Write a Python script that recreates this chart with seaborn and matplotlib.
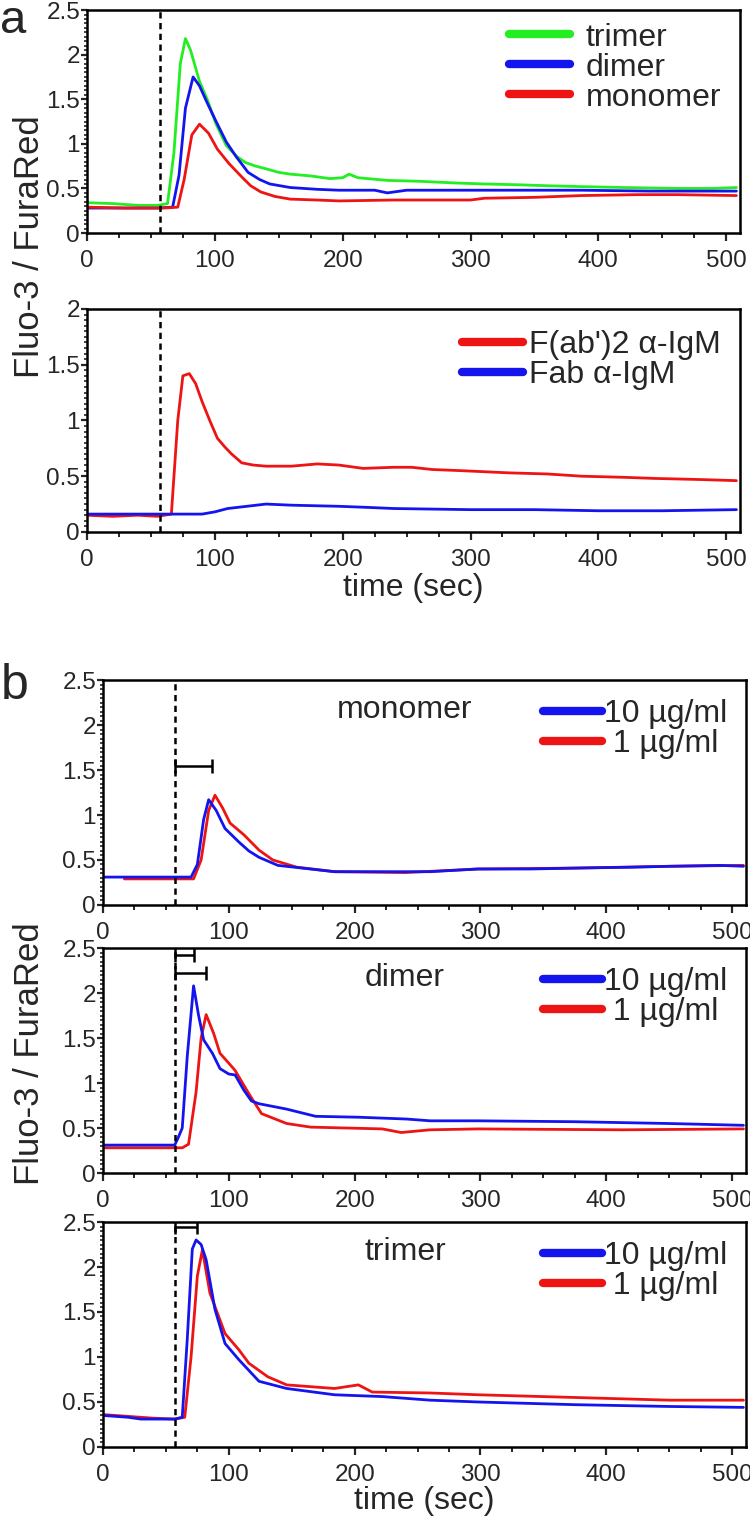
import matplotlib
matplotlib.use("Agg")
import matplotlib.pyplot as plt
from matplotlib.ticker import MultipleLocator
import pandas as pd
import seaborn as sns

# ---------------- data ----------------
# panel a, top: trimer / dimer / monomer at one dose
a_tri_t = [0, 20, 40, 55, 63, 68, 73, 77, 81, 88, 94, 101, 109, 117, 124, 132, 140, 150, 159, 175, 190, 200, 205, 212, 235, 260, 290, 311, 340, 360, 387, 420, 462, 490, 508]
a_tri_v = [0.34, 0.33, 0.31, 0.31, 0.33, 0.9, 1.9, 2.18, 2.05, 1.7, 1.5, 1.22, 0.98, 0.86, 0.79, 0.75, 0.72, 0.68, 0.66, 0.64, 0.61, 0.62, 0.66, 0.62, 0.59, 0.58, 0.56, 0.55, 0.54, 0.53, 0.52, 0.51, 0.50, 0.50, 0.51]
a_di_t = [0, 30, 55, 67, 72, 77, 83, 88, 94, 101, 109, 117, 126, 135, 143, 159, 180, 197, 225, 235, 250, 273, 320, 387, 440, 508]
a_di_v = [0.28, 0.28, 0.28, 0.29, 0.65, 1.4, 1.75, 1.65, 1.46, 1.25, 1.02, 0.85, 0.68, 0.6, 0.55, 0.51, 0.49, 0.48, 0.48, 0.45, 0.48, 0.48, 0.48, 0.48, 0.47, 0.47]
a_mono_t = [0, 30, 60, 71, 76, 82, 88, 95, 102, 111, 121, 128, 136, 147, 159, 180, 197, 240, 300, 311, 350, 387, 430, 462, 508]
a_mono_v = [0.29, 0.28, 0.28, 0.29, 0.6, 1.1, 1.22, 1.12, 0.94, 0.78, 0.63, 0.53, 0.46, 0.41, 0.38, 0.37, 0.36, 0.37, 0.37, 0.39, 0.40, 0.42, 0.43, 0.43, 0.42]

# panel a, bottom: F(ab')2 vs Fab anti-IgM
a_fab2_t = [0, 20, 40, 55, 66, 71, 75, 80, 85, 90, 96, 102, 108, 113, 121, 130, 140, 160, 180, 197, 216, 240, 254, 270, 292, 330, 360, 387, 420, 444, 480, 508]
a_fab2_v = [0.15, 0.14, 0.15, 0.14, 0.16, 1.0, 1.40, 1.42, 1.33, 1.17, 1.0, 0.84, 0.76, 0.70, 0.62, 0.60, 0.59, 0.59, 0.61, 0.60, 0.57, 0.58, 0.58, 0.56, 0.55, 0.53, 0.52, 0.50, 0.49, 0.48, 0.47, 0.46]
a_fab_t = [0, 60, 90, 100, 110, 125, 140, 160, 197, 220, 240, 300, 350, 400, 450, 508]
a_fab_v = [0.16, 0.16, 0.16, 0.18, 0.21, 0.23, 0.25, 0.24, 0.23, 0.22, 0.21, 0.20, 0.20, 0.19, 0.19, 0.20]

# panel b: 10 ug/ml vs 1 ug/ml for each ligand
mono_hi_t = [0, 40, 70, 75, 80, 84, 90, 97, 108, 116, 124, 139, 165, 184, 230, 260, 298, 340, 375, 420, 450, 490, 509]
mono_hi_v = [0.31, 0.31, 0.31, 0.45, 0.95, 1.17, 1.05, 0.85, 0.70, 0.60, 0.53, 0.44, 0.40, 0.37, 0.37, 0.37, 0.40, 0.40, 0.41, 0.42, 0.43, 0.44, 0.43]
mono_lo_t = [17, 40, 72, 78, 84, 89, 95, 101, 112, 124, 135, 154, 184, 240, 298, 375, 450, 509]
mono_lo_v = [0.29, 0.29, 0.29, 0.5, 1.05, 1.22, 1.08, 0.91, 0.78, 0.61, 0.50, 0.42, 0.37, 0.36, 0.40, 0.41, 0.43, 0.44]

di_hi_t = [0, 57, 60, 63, 67, 72, 76, 80, 87, 93, 100, 105, 112, 118, 124, 146, 169, 203, 241, 260, 298, 375, 450, 509]
di_hi_v = [0.31, 0.31, 0.40, 0.50, 1.3, 2.08, 1.75, 1.48, 1.33, 1.16, 1.10, 1.09, 0.92, 0.80, 0.77, 0.71, 0.63, 0.62, 0.60, 0.58, 0.58, 0.57, 0.55, 0.53]
di_lo_t = [0, 30, 63, 68, 74, 78, 82, 88, 93, 100, 105, 116, 126, 146, 165, 222, 237, 260, 298, 413, 509]
di_lo_v = [0.28, 0.28, 0.28, 0.32, 0.9, 1.5, 1.76, 1.55, 1.33, 1.22, 1.14, 0.88, 0.66, 0.55, 0.51, 0.49, 0.45, 0.48, 0.49, 0.48, 0.49]

tri_hi_t = [0, 20, 30, 57, 63, 67, 71, 74, 78, 82, 89, 97, 108, 124, 146, 184, 222, 260, 298, 375, 450, 509]
tri_hi_v = [0.35, 0.33, 0.31, 0.31, 0.33, 1.2, 2.2, 2.30, 2.25, 2.08, 1.53, 1.15, 0.97, 0.73, 0.65, 0.58, 0.56, 0.52, 0.50, 0.47, 0.45, 0.44]
tri_lo_t = [0, 20, 40, 57, 65, 70, 75, 79, 85, 97, 108, 116, 131, 146, 184, 203, 214, 260, 298, 375, 450, 509]
tri_lo_v = [0.36, 0.34, 0.32, 0.31, 0.33, 1.0, 1.9, 2.19, 1.71, 1.26, 1.08, 0.93, 0.78, 0.69, 0.65, 0.69, 0.61, 0.60, 0.58, 0.55, 0.52, 0.52]

# ligand addition time and time-to-peak bars (start, end, height) for panel b
stim_time = 57
mono_bars = [(57, 87, 1.55)]
di_bars = [(57, 72, 2.42), (57, 82, 2.22)]
tri_bars = [(57, 75, 2.45)]

GREEN = "#22ee22"
BLUE = "#1414ee"
RED = "#ee1414"

# ---------------- style ----------------
sns.set_style("ticks")
plt.rcParams["font.family"] = ["Liberation Sans", "DejaVu Sans"]
plt.rcParams["axes.linewidth"] = 1.8
plt.rcParams["xtick.major.width"] = 1.6
plt.rcParams["ytick.major.width"] = 1.6
plt.rcParams["xtick.minor.width"] = 1.4
plt.rcParams["ytick.minor.width"] = 1.2
plt.rcParams["xtick.major.size"] = 6
plt.rcParams["xtick.minor.size"] = 3.5
plt.rcParams["ytick.major.size"] = 4
plt.rcParams["ytick.minor.size"] = 2.5
plt.rcParams["xtick.major.pad"] = 6
plt.rcParams["ytick.major.pad"] = 1

TICK_FS = 17.5
LEG_FS = 23


def trace(ax, t, v, color, label=None):
    df = pd.DataFrame({"t": t, "v": v})
    sns.lineplot(data=df, x="t", y="v", ax=ax, color=color, lw=2.0,
                 label=label, legend=False, estimator=None, sort=False)


def style_axes(ax, ymax, ymajor):
    ax.set_xlim(0, 511)
    ax.set_ylim(0, ymax)
    ax.xaxis.set_major_locator(MultipleLocator(100))
    ax.xaxis.set_minor_locator(MultipleLocator(25))
    ax.yaxis.set_major_locator(MultipleLocator(ymajor))
    ax.yaxis.set_minor_locator(MultipleLocator(0.05))
    ax.tick_params(axis="both", which="both", direction="out", labelsize=TICK_FS)
    ax.set_yticklabels([f"{y:g}" for y in ax.get_yticks()])
    for s in ax.spines.values():
        s.set_visible(True)
        s.set_color("black")
    ax.axvline(stim_time, color="black", lw=1.8, ls=(0, (2.5, 1.8)), zorder=5)
    ax.set_xlabel("")
    ax.set_ylabel("")


def legend(ax, handles, labels, y_anchor, handlelength, textpad):
    leg = ax.legend(handles, labels, loc="upper right", bbox_to_anchor=(1.0, y_anchor),
                    frameon=False, fontsize=LEG_FS, handlelength=handlelength,
                    handletextpad=textpad, labelspacing=0.0, borderaxespad=0.2)
    for line in leg.get_lines():
        line.set_linewidth(6)


def bars(ax, spec):
    for start, end, h in spec:
        ax.errorbar((start + end) / 2, h, xerr=(end - start) / 2, fmt="none",
                    ecolor="black", elinewidth=1.8, capsize=5, capthick=1.8, zorder=6)


fig = plt.figure(figsize=(7.5, 15.22), dpi=100)

# ---- panel a ----
ax1 = fig.add_axes([0.116, 0.8469, 0.871, 0.1465])
trace(ax1, a_tri_t, a_tri_v, GREEN, "trimer")
trace(ax1, a_di_t, a_di_v, BLUE, "dimer")
trace(ax1, a_mono_t, a_mono_v, RED, "monomer")
style_axes(ax1, 2.5, 0.5)
h, l = ax1.get_legend_handles_labels()
legend(ax1, h, l, 1.03, 1.9, 0.5)

ax2 = fig.add_axes([0.116, 0.6505, 0.871, 0.1465])
trace(ax2, a_fab2_t, a_fab2_v, RED, "F(ab')2 \u03b1-IgM")
trace(ax2, a_fab_t, a_fab_v, BLUE, "Fab \u03b1-IgM")
style_axes(ax2, 2.0, 0.5)
h, l = ax2.get_legend_handles_labels()
legend(ax2, h, l, 0.99, 1.9, 0.2)
ax2.set_xlabel("time (sec)", fontsize=LEG_FS, labelpad=2)

fig.text(0.04, 0.838, "Fluo-3 / FuraRed", rotation=90, ha="center", va="center", fontsize=25)
fig.text(0.018, 0.986, "a", ha="center", va="center", fontsize=34)

# ---- panel b ----
b_specs = [
    (0.4054, mono_hi_t, mono_hi_v, mono_lo_t, mono_lo_v, mono_bars, "monomer"),
    (0.2293, di_hi_t, di_hi_v, di_lo_t, di_lo_v, di_bars, "dimer"),
    (0.0493, tri_hi_t, tri_hi_v, tri_lo_t, tri_lo_v, tri_bars, "trimer"),
]
for bottom, ht, hv, lt, lv, spec, name in b_specs:
    ax = fig.add_axes([0.1373, bottom, 0.8573, 0.1478])
    trace(ax, lt, lv, RED, " 1 \u00b5g/ml")
    trace(ax, ht, hv, BLUE, "10 \u00b5g/ml")
    style_axes(ax, 2.5, 0.5)
    h, l = ax.get_legend_handles_labels()
    legend(ax, h[::-1], l[::-1], 1.0, 1.85, 0.05)
    bars(ax, spec)
    ax.text(240, 2.17, name, ha="center", va="center", fontsize=LEG_FS)
    if name == "trimer":
        ax.set_xlabel("time (sec)", fontsize=LEG_FS, labelpad=0)

fig.text(0.04, 0.3075, "Fluo-3 / FuraRed", rotation=90, ha="center", va="center", fontsize=25)
fig.text(0.02, 0.549, "b", ha="center", va="center", fontsize=36)

fig.savefig("out.png", dpi=100)
